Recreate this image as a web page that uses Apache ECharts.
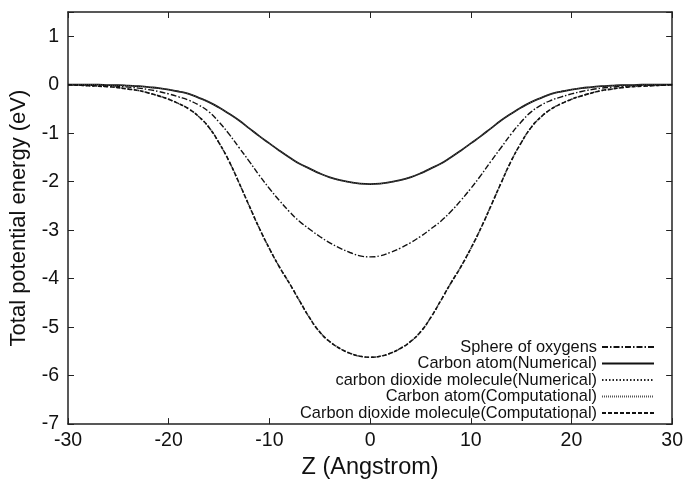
<!DOCTYPE html>
<html>
<head>
<meta charset="utf-8">
<script src="https://cdn.jsdelivr.net/npm/echarts@6/dist/echarts.min.js"></script>
<style>
html,body{margin:0;padding:0;background:#fff;}
#main{width:686px;height:485px;}
</style>
</head>
<body>
<div id="main"></div>
<script>
// Z positions (Angstrom)
var zValues = [-30,-29,-28,-27,-26,-25,-24,-23,-22,-21,-20,-19,-18,-17,-16,-15,-14,-13,-12,-11,-10,-9,-8,-7,-6,-5,-4,-3,-2,-1,
  0,1,2,3,4,5,6,7,8,9,10,11,12,13,14,15,16,17,18,19,20,21,22,23,24,25,26,27,28,29,30];

var oxygenSphere = [0,0,-0.01,-0.01,-0.02,-0.03,-0.05,-0.07,-0.10,-0.14,-0.19,-0.25,-0.32,-0.42,-0.56,-0.77,-1.02,-1.30,-1.58,-1.87,-2.14,-2.39,-2.62,-2.82,-2.98,-3.13,-3.26,-3.37,-3.46,-3.53,
  -3.55,-3.53,-3.46,-3.37,-3.26,-3.13,-2.98,-2.82,-2.62,-2.39,-2.14,-1.87,-1.58,-1.30,-1.02,-0.77,-0.56,-0.42,-0.32,-0.25,-0.19,-0.14,-0.10,-0.07,-0.05,-0.03,-0.02,-0.01,-0.01,0,0];

var carbonNum = [0,0,0,0,-0.01,-0.01,-0.02,-0.03,-0.05,-0.07,-0.10,-0.14,-0.19,-0.27,-0.36,-0.47,-0.60,-0.74,-0.90,-1.06,-1.21,-1.36,-1.50,-1.63,-1.73,-1.83,-1.91,-1.97,-2.01,-2.04,
  -2.05,-2.04,-2.01,-1.97,-1.91,-1.83,-1.73,-1.63,-1.50,-1.36,-1.21,-1.06,-0.90,-0.74,-0.60,-0.47,-0.36,-0.27,-0.19,-0.14,-0.10,-0.07,-0.05,-0.03,-0.02,-0.01,-0.01,0,0,0,0];

var co2Num = [0,-0.01,-0.02,-0.03,-0.04,-0.06,-0.09,-0.12,-0.17,-0.23,-0.30,-0.39,-0.50,-0.66,-0.88,-1.20,-1.58,-2.03,-2.50,-2.96,-3.38,-3.76,-4.10,-4.46,-4.81,-5.10,-5.30,-5.44,-5.54,-5.60,
  -5.62,-5.60,-5.54,-5.44,-5.30,-5.10,-4.81,-4.46,-4.10,-3.76,-3.38,-2.96,-2.50,-2.03,-1.58,-1.20,-0.88,-0.66,-0.50,-0.39,-0.30,-0.23,-0.17,-0.12,-0.09,-0.06,-0.04,-0.03,-0.02,-0.01,0];

var carbonComp = [0,0,0,0,-0.01,-0.01,-0.02,-0.03,-0.05,-0.07,-0.10,-0.14,-0.19,-0.27,-0.36,-0.47,-0.60,-0.74,-0.90,-1.06,-1.21,-1.36,-1.50,-1.63,-1.73,-1.83,-1.91,-1.97,-2.01,-2.04,
  -2.05,-2.04,-2.01,-1.97,-1.91,-1.83,-1.73,-1.63,-1.50,-1.36,-1.21,-1.06,-0.90,-0.74,-0.60,-0.47,-0.36,-0.27,-0.19,-0.14,-0.10,-0.07,-0.05,-0.03,-0.02,-0.01,-0.01,0,0,0,0];

var co2Comp = [0,-0.01,-0.02,-0.03,-0.04,-0.06,-0.09,-0.12,-0.17,-0.23,-0.30,-0.39,-0.50,-0.66,-0.88,-1.20,-1.58,-2.03,-2.50,-2.96,-3.38,-3.76,-4.10,-4.46,-4.81,-5.10,-5.30,-5.44,-5.54,-5.60,
  -5.62,-5.60,-5.54,-5.44,-5.30,-5.10,-4.81,-4.46,-4.10,-3.76,-3.38,-2.96,-2.50,-2.03,-1.58,-1.20,-0.88,-0.66,-0.50,-0.39,-0.30,-0.23,-0.17,-0.12,-0.09,-0.06,-0.04,-0.03,-0.02,-0.01,0];

var seriesNames = ['Sphere of oxygens','Carbon atom(Numerical)','carbon dioxide molecule(Numerical)','Carbon atom(Computational)','Carbon dioxide molecule(Computational)'];

function pairs(vals){
    var out = [];
    for (var i = 0; i < zValues.length; i++) out.push([zValues[i], vals[i]]);
    return out;
}

var font = 'Liberation Sans, Arial, Helvetica, sans-serif';
var chart = echarts.init(document.getElementById('main'));

function lineSeries(name, vals, type, width, color, z){
    return {
        name: name, type: 'line', data: pairs(vals), smooth: true,
        symbol: 'none', z: z,
        lineStyle: {color: color, width: width, type: type},
        itemStyle: {color: color}
    };
}

var axisLineStyle = {onZero: false, lineStyle: {color: '#222', width: 1.5}};
var tickStyle = {inside: true, length: 6, lineStyle: {color: '#222'}};

var option = {
    backgroundColor: '#fff',
    animation: false,
    grid: {left: 67, right: 11, top: 12, bottom: 57},
    legend: {
        orient: 'vertical', right: 26, top: 334, align: 'right',
        itemWidth: 52, itemHeight: 12, itemGap: 0.5,
        itemStyle: {opacity: 0},
        textStyle: {fontFamily: font, fontSize: 16.4, lineHeight: 16, color: '#111', padding: [0, 0, 0, 0]},
        data: seriesNames
    },
    xAxis: [{
        type: 'value', min: -30, max: 30, interval: 10,
        name: 'Z (Angstrom)', nameLocation: 'middle', nameGap: 30,
        nameTextStyle: {fontFamily: font, fontSize: 23.5, color: '#111'},
        axisLine: axisLineStyle, axisTick: tickStyle,
        axisLabel: {fontFamily: font, fontSize: 19.5, color: '#111', margin: 7},
        splitLine: {show: false}
    }, {
        type: 'value', position: 'top', min: -30, max: 30, interval: 10,
        axisLine: axisLineStyle, axisTick: tickStyle,
        axisLabel: {show: false}, splitLine: {show: false}
    }],
    yAxis: [{
        type: 'value', min: -7, max: 1.5, interval: 1,
        name: 'Total potential energy (eV)', nameLocation: 'middle', nameGap: 38,
        nameTextStyle: {fontFamily: font, fontSize: 22, color: '#111'},
        axisLine: axisLineStyle, axisTick: tickStyle,
        axisLabel: {fontFamily: font, fontSize: 19.5, color: '#111', margin: 9,
            formatter: function(v){ return Number.isInteger(v) ? String(v) : ''; }},
        splitLine: {show: false}
    }, {
        type: 'value', position: 'right', min: -7, max: 1.5, interval: 1,
        axisLine: axisLineStyle, axisTick: tickStyle,
        axisLabel: {show: false}, splitLine: {show: false}
    }],
    series: [
        lineSeries(seriesNames[0], oxygenSphere, [6, 2, 1.5, 2], 1.4, '#111', 3),
        lineSeries(seriesNames[1], carbonNum, 'solid', 1.8, '#111', 2),
        lineSeries(seriesNames[2], co2Num, [1.5, 2], 1.4, '#222', 2),
        lineSeries(seriesNames[3], carbonComp, [1, 1], 1, '#555', 3),
        lineSeries(seriesNames[4], co2Comp, [4, 2], 1.6, '#111', 4)
    ]
};
chart.setOption(option);
</script>
</body>
</html>
